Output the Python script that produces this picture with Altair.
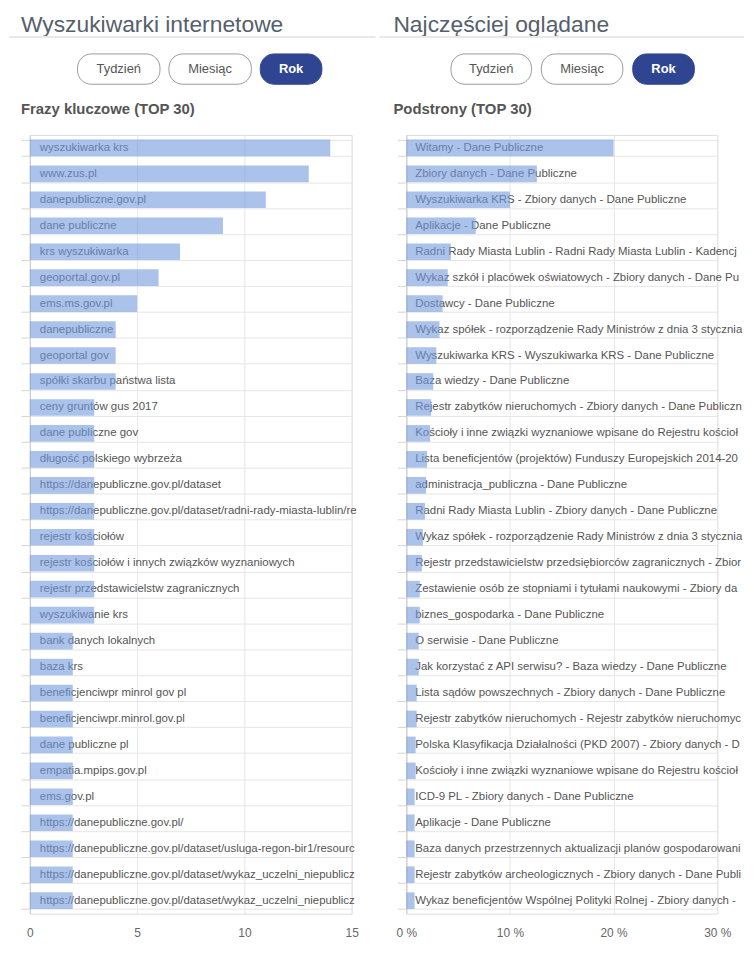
import altair as alt
import pandas as pd

FONT = "Liberation Sans"

# ---------------- data ----------------
left_title = "Wyszukiwarki internetowe"
left_subtitle = "Frazy kluczowe (TOP 30)"
left_labels = [
    "wyszukiwarka krs",
    "www.zus.pl",
    "danepubliczne.gov.pl",
    "dane publiczne",
    "krs wyszukiwarka",
    "geoportal.gov.pl",
    "ems.ms.gov.pl",
    "danepubliczne",
    "geoportal gov",
    "spółki skarbu państwa lista",
    "ceny gruntów gus 2017",
    "dane publiczne gov",
    "długość polskiego wybrzeża",
    "https://danepubliczne.gov.pl/dataset",
    "https://danepubliczne.gov.pl/dataset/radni-rady-miasta-lublin/resource",
    "rejestr kościołów",
    "rejestr kościołów i innych związków wyznaniowych",
    "rejestr przedstawicielstw zagranicznych",
    "wyszukiwanie krs",
    "bank danych lokalnych",
    "baza krs",
    "beneficjenciwpr minrol gov pl",
    "beneficjenciwpr.minrol.gov.pl",
    "dane publiczne pl",
    "empatia.mpips.gov.pl",
    "ems.gov.pl",
    "https://danepubliczne.gov.pl/",
    "https://danepubliczne.gov.pl/dataset/usluga-regon-bir1/resource",
    "https://danepubliczne.gov.pl/dataset/wykaz_uczelni_niepublicznych",
    "https://danepubliczne.gov.pl/dataset/wykaz_uczelni_niepublicznych/resource",
]
left_values = [14, 13, 11, 9, 7, 6, 5, 4, 4, 4,
               3, 3, 3, 3, 3, 3, 3, 3, 3, 2,
               2, 2, 2, 2, 2, 2, 2, 2, 2, 2]
left_ticks = [0, 5, 10, 15]

right_title = "Najczęściej oglądane"
right_subtitle = "Podstrony (TOP 30)"
right_labels = [
    "Witamy - Dane Publiczne",
    "Zbiory danych - Dane Publiczne",
    "Wyszukiwarka KRS - Zbiory danych - Dane Publiczne",
    "Aplikacje - Dane Publiczne",
    "Radni Rady Miasta Lublin - Radni Rady Miasta Lublin - Kadencja 2014-2018 - Dane Publiczne",
    "Wykaz szkół i placówek oświatowych - Zbiory danych - Dane Publiczne",
    "Dostawcy - Dane Publiczne",
    "Wykaz spółek - rozporządzenie Rady Ministrów z dnia 3 stycznia 2017 - Dane Publiczne",
    "Wyszukiwarka KRS - Wyszukiwarka KRS - Dane Publiczne",
    "Baza wiedzy - Dane Publiczne",
    "Rejestr zabytków nieruchomych - Zbiory danych - Dane Publiczne",
    "Kościoły i inne związki wyznaniowe wpisane do Rejestru kościołów - Dane Publiczne",
    "Lista beneficjentów (projektów) Funduszy Europejskich 2014-2020 - Dane Publiczne",
    "administracja_publiczna - Dane Publiczne",
    "Radni Rady Miasta Lublin - Zbiory danych - Dane Publiczne",
    "Wykaz spółek - rozporządzenie Rady Ministrów z dnia 3 stycznia 2017 - Zbiory danych",
    "Rejestr przedstawicielstw przedsiębiorców zagranicznych - Zbiory danych - Dane Publiczne",
    "Zestawienie osób ze stopniami i tytułami naukowymi - Zbiory danych - Dane Publiczne",
    "biznes_gospodarka - Dane Publiczne",
    "O serwisie - Dane Publiczne",
    "Jak korzystać z API serwisu? - Baza wiedzy - Dane Publiczne",
    "Lista sądów powszechnych - Zbiory danych - Dane Publiczne",
    "Rejestr zabytków nieruchomych - Rejestr zabytków nieruchomych - Dane Publiczne",
    "Polska Klasyfikacja Działalności (PKD 2007) - Zbiory danych - Dane Publiczne",
    "Kościoły i inne związki wyznaniowe wpisane do Rejestru kościołów - Zbiory danych",
    "ICD-9 PL - Zbiory danych - Dane Publiczne",
    "Aplikacje - Dane Publiczne",
    "Baza danych przestrzennych aktualizacji planów gospodarowania wodami - Dane Publiczne",
    "Rejestr zabytków archeologicznych - Zbiory danych - Dane Publiczne",
    "Wykaz beneficjentów Wspólnej Polityki Rolnej - Zbiory danych - Dane Publiczne",
]
right_values = [20.0, 12.6, 10.0, 6.7, 4.3, 4.0, 3.5, 3.2, 2.9, 2.6,
                2.4, 2.3, 2.0, 1.9, 1.8, 1.6, 1.5, 1.3, 1.3, 1.2,
                1.2, 1.0, 1.0, 0.9, 0.9, 0.8, 0.8, 0.8, 0.8, 0.8]
right_ticks = [0, 10, 20, 30]

buttons = ["Tydzień", "Miesiąc", "Rok"]
active_button = "Rok"

BAR = "#7399dc"
GRID = "#e6e6e6"
TEXT = "#555555"
NAVY = "#2f4592"


def panel(title, subtitle, labels, values, ticks, width, text_limit, text_dx,
          line_x, title_x, button_x, label_expr=None):
    df = pd.DataFrame({"rank": list(range(1, len(labels) + 1)),
                       "label": labels, "value": values})
    base = alt.Chart(df)
    xaxis = dict(values=ticks, domain=False, ticks=False, grid=True,
                 gridColor=GRID, labelPadding=14, labelFontSize=12,
                 labelColor="#666", labelFont=FONT, labelFlush=False, title=None)
    if label_expr:
        xaxis["labelExpr"] = label_expr
    x = alt.X("value:Q", scale=alt.Scale(domain=[ticks[0], ticks[-1]], nice=False),
              axis=alt.Axis(**xaxis))
    y = alt.Y("rank:O",
              scale=alt.Scale(paddingInner=0.36, paddingOuter=0.18),
              axis=alt.Axis(labels=False, title=None, domain=True,
                            domainColor="#cccccc", ticks=True, tickSize=9,
                            tickColor="#d5d5d5", grid=True, gridColor=GRID,
                            tickBand="extent"))
    texts = base.mark_text(align="left", baseline="middle", dx=text_dx,
                           fontSize=11.5, font=FONT, color=TEXT,
                           limit=text_limit, ellipsis="\u200b").encode(
        x=alt.datum(0), y=y, text="label:N")
    bars = base.mark_bar(color=BAR, opacity=0.6).encode(x=x, y=y)

    layers = [texts, bars]
    one = pd.DataFrame({"t": [title]})
    layers.append(alt.Chart(one).mark_text(
        align="left", baseline="alphabetic", fontSize=23, font=FONT,
        color="#56606c").encode(x=alt.value(title_x), y=alt.value(-104), text="t:N"))
    layers.append(alt.Chart(pd.DataFrame({"t": [subtitle]})).mark_text(
        align="left", baseline="alphabetic", fontSize=15, font=FONT,
        fontWeight="bold", color=TEXT).encode(
        x=alt.value(title_x), y=alt.value(-21), text="t:N"))
    layers.append(alt.Chart(one).mark_rule(color="#e8e8e8", strokeWidth=2).encode(
        x=alt.value(line_x[0]), x2=alt.value(line_x[1]), y=alt.value(-98.5)))
    for name, (x0, x1) in zip(buttons, button_x):
        active = name == active_button
        bdf = pd.DataFrame({"t": [name]})
        layers.append(alt.Chart(bdf).mark_rect(
            cornerRadius=14, fill=NAVY if active else "white",
            stroke=NAVY if active else "#9a9a9a", strokeWidth=1).encode(
            x=alt.value(x0), x2=alt.value(x1), y=alt.value(-81.5), y2=alt.value(-51)))
        layers.append(alt.Chart(bdf).mark_text(
            align="center", baseline="middle", fontSize=13, font=FONT,
            fontWeight="bold" if active else "normal",
            color="white" if active else TEXT).encode(
            x=alt.value((x0 + x1) / 2), y=alt.value(-66), text="t:N"))
    return alt.layer(*layers).properties(width=width, height=784)


left = panel(left_title, left_subtitle, left_labels, left_values, left_ticks,
             width=324, text_limit=323, text_dx=10, line_x=(-21, 348), title_x=-9,
             button_x=[(48, 131), (140, 223), (232, 294)])
right = panel(right_title, right_subtitle, right_labels, right_values, right_ticks,
              width=313, text_limit=330, text_dx=9, line_x=(-27, 340), title_x=-13,
              button_x=[(45, 126), (136, 218), (228, 290)],
              label_expr="datum.value + ' %'")

chart = alt.hconcat(left, right, spacing=0).properties(
    padding={"left": -1, "top": 1.6, "right": 0, "bottom": 0}
).configure_view(stroke=None).configure(font=FONT)

chart.save("out.html", embed_options={"renderer": "svg", "actions": False})
